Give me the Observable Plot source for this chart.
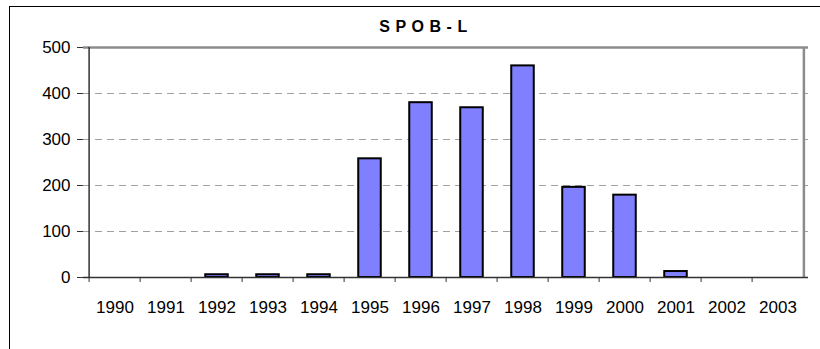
<!DOCTYPE html>
<html>
<head>
<meta charset="utf-8">
<script src="https://cdn.jsdelivr.net/npm/d3@7"></script>
<script src="https://cdn.jsdelivr.net/npm/@observablehq/plot@0.6"></script>
<style>
  html, body { margin: 0; padding: 0; background: #fff; overflow: hidden; }
  #wrap { position: relative; width: 820px; height: 349px; overflow: hidden; }
  #frame { position: absolute; left: 9px; top: 6px; width: 840px; height: 400px; border: 1px solid #000; box-sizing: border-box; }
  #title { position: absolute; left: 0; width: 852px; top: 18px; text-align: center; font: bold 16px "Liberation Sans", Arial, sans-serif; letter-spacing: 5.5px; color: #000; }
  #chart { position: absolute; left: 0; top: 0; }
  #chart svg { font-family: "Liberation Sans", Arial, sans-serif; }
</style>
</head>
<body>
<div id="wrap">
  <div id="frame"></div>
  <div id="title">SPOB-L</div>
  <div id="chart"></div>
</div>
<script>
// Annual counts for SPOB-L, 1990–2003
const years = ["1990","1991","1992","1993","1994","1995","1996","1997","1998","1999","2000","2001","2002","2003"];
const counts = [0, 0, 6, 6, 6, 258, 380, 369, 460, 196, 179, 13, 0, 0];
const yTicks = [0, 100, 200, 300, 400, 500];
const gridTicks = [100, 200, 300, 400];

const data = years.map((year, i) => ({year, count: counts[i]}));

const width = 820, height = 349;
const marginLeft = 83, marginRight = 12, marginTop = 47, marginBottom = 72;
const bandwidth = (width - marginLeft - marginRight) / years.length;
const barInset = bandwidth * 0.275;

const chart = Plot.plot({
  width, height, marginLeft, marginRight, marginTop, marginBottom,
  style: {fontSize: "17px", fontFamily: "Liberation Sans, Arial, sans-serif", color: "#000", background: "transparent"},
  x: {type: "band", domain: years, padding: 0, label: null},
  y: {domain: [0, 500], label: null},
  marks: [
    // dashed horizontal gridlines
    Plot.ruleY(gridTicks, {stroke: "#a0a0a0", strokeWidth: 1, strokeDasharray: "7,5"}),
    // gray border along the top and right of the plot area
    Plot.ruleY([500], {stroke: "#8c8c8c", strokeWidth: 2.5}),
    Plot.ruleX([years[years.length - 1]], {stroke: "#8c8c8c", strokeWidth: 2.5, dx: bandwidth / 2}),
    // bars
    Plot.barY(data, {x: "year", y: "count", fill: "#8080ff", stroke: "#000", strokeWidth: 2, insetLeft: barInset, insetRight: barInset}),
    // y axis
    Plot.axisY({ticks: yTicks, tickSize: 6, tickPadding: 7, stroke: "#333", label: null, fontSize: 17, style: {letterSpacing: "1.5px", fontSize: "17px"}}),
    Plot.ruleX([years[0]], {dx: -bandwidth / 2, stroke: "#333", strokeWidth: 1.5}),
    // x axis: ticks at category boundaries, labels centred in each category
    Plot.axisX({ticks: years, tickSize: 5, stroke: "#333", tickFormat: () => "", dx: -bandwidth / 2, label: null}),
    Plot.axisX({ticks: years, tickSize: 0, tickPadding: 23, label: null, fontSize: 17, style: {letterSpacing: "0.3px", fontSize: "17px"}}),
    Plot.ruleY([0], {stroke: "#333", strokeWidth: 1.5})
  ]
});
document.getElementById("chart").appendChild(chart);
</script>
</body>
</html>
